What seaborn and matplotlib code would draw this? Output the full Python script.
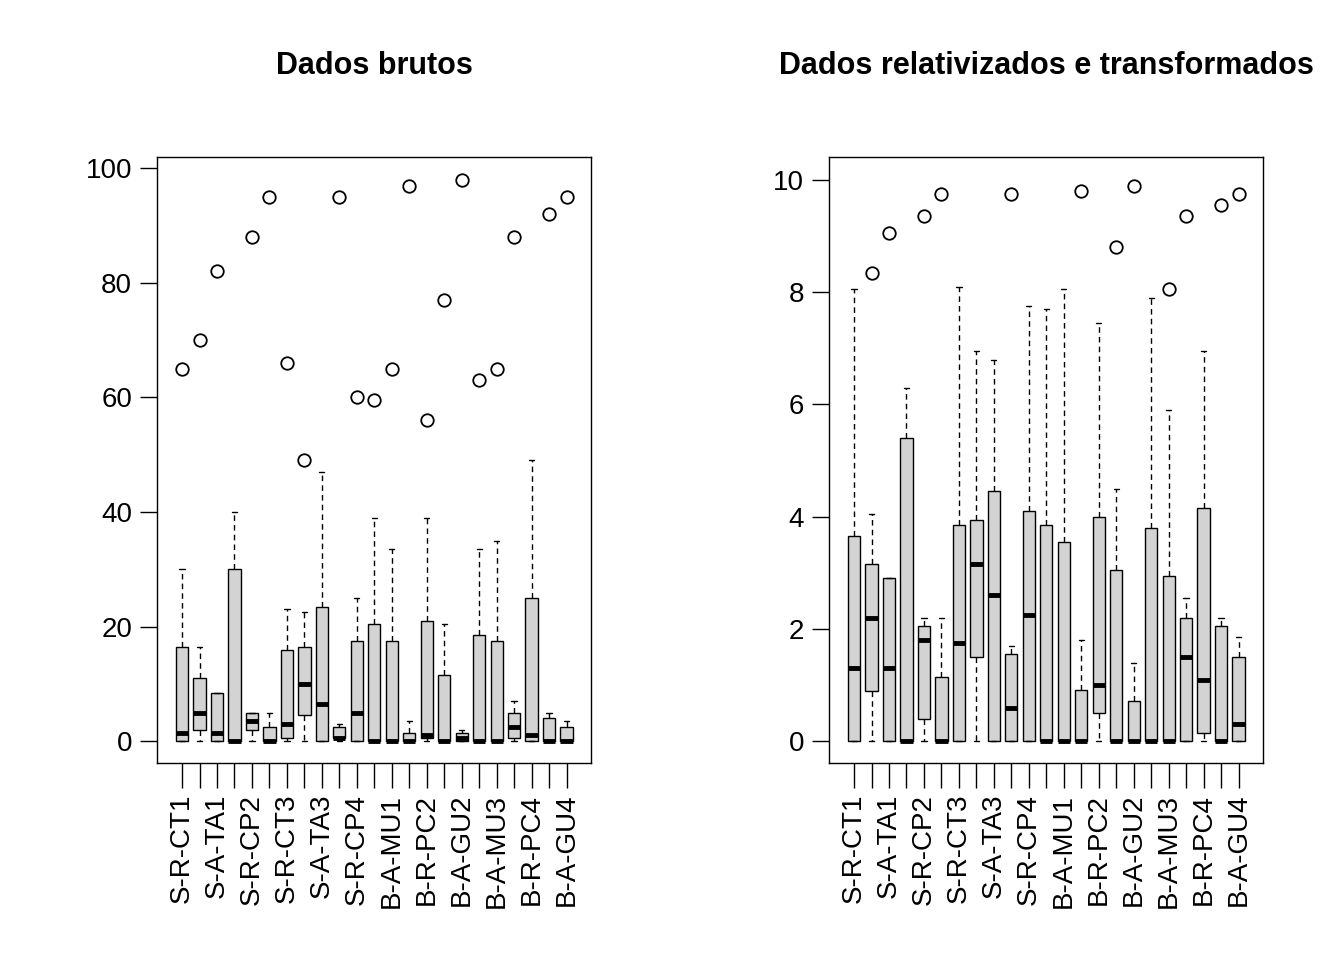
import matplotlib
matplotlib.use("Agg")
import matplotlib.pyplot as plt
import seaborn as sns

sns.set_style("white")
plt.rcParams["font.family"] = ["Liberation Sans", "DejaVu Sans"]
plt.rcParams["text.color"] = "black"
plt.rcParams["xtick.color"] = "black"
plt.rcParams["ytick.color"] = "black"

labels = ["S-R-CT1", "S-A-CT1", "S-A-TA1", "S-R-TA1", "S-R-CP2", "S-A-CP2",
          "S-R-CT3", "S-A-CT3", "S-A-TA3", "S-R-TA3", "S-R-CP4", "S-A-CP4",
          "B-A-MU1", "B-R-MU1", "B-R-PC2", "B-A-PC2", "B-A-GU2", "B-R-GU2",
          "B-A-MU3", "B-R-MU3", "B-R-PC4", "B-A-PC4", "B-A-GU4"]

# raw data: whisker low, q1, median, q3, whisker high, outliers
raw_wlo = [0] * 23
raw_q1 = [0, 2, 0, 0, 2, 0, 0.5, 4.5, 0, 0.5, 0, 0, 0, 0, 0.5, 0, 0, 0, 0, 0.5, 0, 0, 0]
raw_med = [1.5, 5, 1.5, 0, 3.5, 0, 3, 10, 6.5, 0.5, 5, 0, 0, 0, 1, 0, 0.5, 0, 0, 2.5, 1, 0, 0]
raw_q3 = [16.5, 11, 8.5, 30, 5, 2.5, 16, 16.5, 23.5, 2.5, 17.5, 20.5, 17.5, 1.5, 21, 11.5,
          1.5, 18.5, 17.5, 5, 25, 4, 2.5]
raw_whi = [30, 16.5, 8.5, 40, 5, 5, 23, 22.5, 47, 3, 25, 39, 33.5, 3.5, 39, 20.5,
           2, 33.5, 35, 7, 49, 5, 3.5]
raw_out = [[65], [70], [82], [], [88], [95], [66], [49], [], [95], [60], [59.5], [65],
           [97], [56], [77], [98], [63], [65], [88], [], [92], [95]]

# relativized and transformed data
rel_wlo = [0] * 23
rel_q1 = [0, 0.9, 0, 0, 0.4, 0, 0, 1.5, 0, 0, 0, 0, 0, 0, 0.5, 0, 0, 0, 0, 0, 0.15, 0, 0]
rel_med = [1.3, 2.2, 1.3, 0, 1.8, 0, 1.75, 3.15, 2.6, 0.6, 2.25, 0, 0, 0, 1, 0, 0, 0, 0,
           1.5, 1.1, 0, 0.3]
rel_q3 = [3.65, 3.15, 2.9, 5.4, 2.05, 1.15, 3.85, 3.95, 4.45, 1.55, 4.1, 3.85, 3.55, 0.92,
          4.0, 3.05, 0.72, 3.8, 2.95, 2.2, 4.15, 2.05, 1.5]
rel_whi = [8.05, 4.05, 2.9, 6.3, 2.2, 2.2, 8.1, 6.95, 6.8, 1.7, 7.75, 7.7, 8.05, 1.8,
           7.45, 4.5, 1.4, 7.9, 5.9, 2.55, 6.95, 2.2, 1.85]
rel_out = [[], [8.35], [9.05], [], [9.35], [9.75], [], [], [], [9.75], [], [], [], [9.8],
           [], [8.8], [9.9], [], [8.05], [9.35], [], [9.55], [9.75]]


def stats(wlo, q1, med, q3, whi, out):
    return [dict(whislo=a, q1=b, med=c, q3=d, whishi=e, fliers=f)
            for a, b, c, d, e, f in zip(wlo, q1, med, q3, whi, out)]


def draw(ax, st, ylim, yticks, title):
    ax.bxp(st, positions=range(1, 24), widths=0.7, patch_artist=True,
           boxprops=dict(facecolor="#D3D3D3", edgecolor="black", linewidth=1),
           medianprops=dict(color="black", linewidth=3.5, solid_capstyle="butt"),
           whiskerprops=dict(linestyle=(0, (4, 3)), color="black", linewidth=1),
           capprops=dict(color="black", linewidth=1), capwidths=0.3,
           flierprops=dict(marker="o", markerfacecolor="none", markeredgecolor="black",
                           markersize=9, markeredgewidth=1.3))
    ax.set_xlim(-0.42, 24.42)
    ax.set_ylim(*ylim)
    ax.set_yticks(yticks)
    ax.set_xticks(range(1, 24))
    ax.set_xticklabels([l if i % 2 == 0 else "" for i, l in enumerate(labels)],
                       rotation=90, fontsize=20)
    ax.tick_params(axis="y", labelsize=20, length=12, width=1, direction="out", left=True,
                   pad=6)
    ax.tick_params(axis="x", length=18, width=1, direction="out", bottom=True, pad=4)
    for s in ax.spines.values():
        s.set_color("black")
        s.set_linewidth(1)
    ax.set_title(title, fontsize=22, fontweight="bold", pad=60)


fig = plt.figure(figsize=(13.44, 9.6), dpi=100)
ax1 = fig.add_axes([0.117, 0.205, 0.323, 0.631])
ax2 = fig.add_axes([0.617, 0.205, 0.323, 0.631])
draw(ax1, stats(raw_wlo, raw_q1, raw_med, raw_q3, raw_whi, raw_out),
     (-3.84, 101.9), [0, 20, 40, 60, 80, 100], "Dados brutos")
draw(ax2, stats(rel_wlo, rel_q1, rel_med, rel_q3, rel_whi, rel_out),
     (-0.39, 10.4), [0, 2, 4, 6, 8, 10], "Dados relativizados e transformados")
fig.savefig("out.png", dpi=100)
